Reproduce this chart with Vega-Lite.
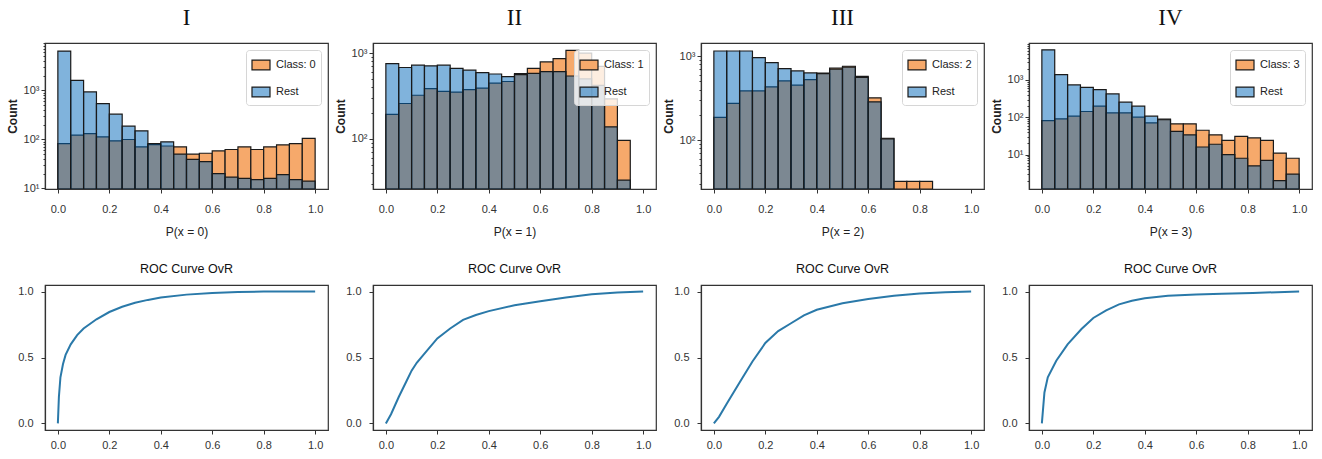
{
  "$schema": "https://vega.github.io/schema/vega-lite/v6.json",
  "background": "white",
  "padding": {"left": 5, "top": 5, "right": 5, "bottom": 5},
  "datasets": {
    "hist": [
      {"panel": "I", "series": "Class: 0", "lo": 0.00, "hi": 0.05, "count": 82},
      {"panel": "I", "series": "Class: 0", "lo": 0.05, "hi": 0.10, "count": 122},
      {"panel": "I", "series": "Class: 0", "lo": 0.10, "hi": 0.15, "count": 131},
      {"panel": "I", "series": "Class: 0", "lo": 0.15, "hi": 0.20, "count": 112},
      {"panel": "I", "series": "Class: 0", "lo": 0.20, "hi": 0.25, "count": 93},
      {"panel": "I", "series": "Class: 0", "lo": 0.25, "hi": 0.30, "count": 99},
      {"panel": "I", "series": "Class: 0", "lo": 0.30, "hi": 0.35, "count": 70},
      {"panel": "I", "series": "Class: 0", "lo": 0.35, "hi": 0.40, "count": 78},
      {"panel": "I", "series": "Class: 0", "lo": 0.40, "hi": 0.45, "count": 73},
      {"panel": "I", "series": "Class: 0", "lo": 0.45, "hi": 0.50, "count": 70},
      {"panel": "I", "series": "Class: 0", "lo": 0.50, "hi": 0.55, "count": 50},
      {"panel": "I", "series": "Class: 0", "lo": 0.55, "hi": 0.60, "count": 52},
      {"panel": "I", "series": "Class: 0", "lo": 0.60, "hi": 0.65, "count": 58},
      {"panel": "I", "series": "Class: 0", "lo": 0.65, "hi": 0.70, "count": 62},
      {"panel": "I", "series": "Class: 0", "lo": 0.70, "hi": 0.75, "count": 70},
      {"panel": "I", "series": "Class: 0", "lo": 0.75, "hi": 0.80, "count": 62},
      {"panel": "I", "series": "Class: 0", "lo": 0.80, "hi": 0.85, "count": 70},
      {"panel": "I", "series": "Class: 0", "lo": 0.85, "hi": 0.90, "count": 77},
      {"panel": "I", "series": "Class: 0", "lo": 0.90, "hi": 0.95, "count": 82},
      {"panel": "I", "series": "Class: 0", "lo": 0.95, "hi": 1.00, "count": 104},
      {"panel": "I", "series": "Rest", "lo": 0.00, "hi": 0.05, "count": 6300},
      {"panel": "I", "series": "Rest", "lo": 0.05, "hi": 0.10, "count": 1590},
      {"panel": "I", "series": "Rest", "lo": 0.10, "hi": 0.15, "count": 925},
      {"panel": "I", "series": "Rest", "lo": 0.15, "hi": 0.20, "count": 535},
      {"panel": "I", "series": "Rest", "lo": 0.20, "hi": 0.25, "count": 325},
      {"panel": "I", "series": "Rest", "lo": 0.25, "hi": 0.30, "count": 185},
      {"panel": "I", "series": "Rest", "lo": 0.30, "hi": 0.35, "count": 149},
      {"panel": "I", "series": "Rest", "lo": 0.35, "hi": 0.40, "count": 82},
      {"panel": "I", "series": "Rest", "lo": 0.40, "hi": 0.45, "count": 89},
      {"panel": "I", "series": "Rest", "lo": 0.45, "hi": 0.50, "count": 50},
      {"panel": "I", "series": "Rest", "lo": 0.50, "hi": 0.55, "count": 39},
      {"panel": "I", "series": "Rest", "lo": 0.55, "hi": 0.60, "count": 35},
      {"panel": "I", "series": "Rest", "lo": 0.60, "hi": 0.65, "count": 20},
      {"panel": "I", "series": "Rest", "lo": 0.65, "hi": 0.70, "count": 17},
      {"panel": "I", "series": "Rest", "lo": 0.70, "hi": 0.75, "count": 16},
      {"panel": "I", "series": "Rest", "lo": 0.75, "hi": 0.80, "count": 15},
      {"panel": "I", "series": "Rest", "lo": 0.80, "hi": 0.85, "count": 16},
      {"panel": "I", "series": "Rest", "lo": 0.85, "hi": 0.90, "count": 19},
      {"panel": "I", "series": "Rest", "lo": 0.90, "hi": 0.95, "count": 15},
      {"panel": "I", "series": "Rest", "lo": 0.95, "hi": 1.00, "count": 14},

      {"panel": "II", "series": "Class: 1", "lo": 0.00, "hi": 0.05, "count": 193},
      {"panel": "II", "series": "Class: 1", "lo": 0.05, "hi": 0.10, "count": 258},
      {"panel": "II", "series": "Class: 1", "lo": 0.10, "hi": 0.15, "count": 322},
      {"panel": "II", "series": "Class: 1", "lo": 0.15, "hi": 0.20, "count": 384},
      {"panel": "II", "series": "Class: 1", "lo": 0.20, "hi": 0.25, "count": 357},
      {"panel": "II", "series": "Class: 1", "lo": 0.25, "hi": 0.30, "count": 351},
      {"panel": "II", "series": "Class: 1", "lo": 0.30, "hi": 0.35, "count": 374},
      {"panel": "II", "series": "Class: 1", "lo": 0.35, "hi": 0.40, "count": 391},
      {"panel": "II", "series": "Class: 1", "lo": 0.40, "hi": 0.45, "count": 446},
      {"panel": "II", "series": "Class: 1", "lo": 0.45, "hi": 0.50, "count": 466},
      {"panel": "II", "series": "Class: 1", "lo": 0.50, "hi": 0.55, "count": 575},
      {"panel": "II", "series": "Class: 1", "lo": 0.55, "hi": 0.60, "count": 662},
      {"panel": "II", "series": "Class: 1", "lo": 0.60, "hi": 0.65, "count": 789},
      {"panel": "II", "series": "Class: 1", "lo": 0.65, "hi": 0.70, "count": 861},
      {"panel": "II", "series": "Class: 1", "lo": 0.70, "hi": 0.75, "count": 1075},
      {"panel": "II", "series": "Class: 1", "lo": 0.75, "hi": 0.80, "count": 1000},
      {"panel": "II", "series": "Class: 1", "lo": 0.80, "hi": 0.85, "count": 700},
      {"panel": "II", "series": "Class: 1", "lo": 0.85, "hi": 0.90, "count": 292},
      {"panel": "II", "series": "Class: 1", "lo": 0.90, "hi": 0.95, "count": 96},
      {"panel": "II", "series": "Rest", "lo": 0.00, "hi": 0.05, "count": 755},
      {"panel": "II", "series": "Rest", "lo": 0.05, "hi": 0.10, "count": 679},
      {"panel": "II", "series": "Rest", "lo": 0.10, "hi": 0.15, "count": 722},
      {"panel": "II", "series": "Rest", "lo": 0.15, "hi": 0.20, "count": 710},
      {"panel": "II", "series": "Rest", "lo": 0.20, "hi": 0.25, "count": 722},
      {"panel": "II", "series": "Rest", "lo": 0.25, "hi": 0.30, "count": 662},
      {"panel": "II", "series": "Rest", "lo": 0.30, "hi": 0.35, "count": 632},
      {"panel": "II", "series": "Rest", "lo": 0.35, "hi": 0.40, "count": 590},
      {"panel": "II", "series": "Rest", "lo": 0.40, "hi": 0.45, "count": 570},
      {"panel": "II", "series": "Rest", "lo": 0.45, "hi": 0.50, "count": 531},
      {"panel": "II", "series": "Rest", "lo": 0.50, "hi": 0.55, "count": 560},
      {"panel": "II", "series": "Rest", "lo": 0.55, "hi": 0.60, "count": 580},
      {"panel": "II", "series": "Rest", "lo": 0.60, "hi": 0.65, "count": 606},
      {"panel": "II", "series": "Rest", "lo": 0.65, "hi": 0.70, "count": 606},
      {"panel": "II", "series": "Rest", "lo": 0.70, "hi": 0.75, "count": 540},
      {"panel": "II", "series": "Rest", "lo": 0.75, "hi": 0.80, "count": 500},
      {"panel": "II", "series": "Rest", "lo": 0.80, "hi": 0.85, "count": 420},
      {"panel": "II", "series": "Rest", "lo": 0.85, "hi": 0.90, "count": 138},
      {"panel": "II", "series": "Rest", "lo": 0.90, "hi": 0.95, "count": 33},

      {"panel": "III", "series": "Class: 2", "lo": 0.00, "hi": 0.05, "count": 186},
      {"panel": "III", "series": "Class: 2", "lo": 0.05, "hi": 0.10, "count": 274},
      {"panel": "III", "series": "Class: 2", "lo": 0.10, "hi": 0.15, "count": 386},
      {"panel": "III", "series": "Class: 2", "lo": 0.15, "hi": 0.20, "count": 386},
      {"panel": "III", "series": "Class: 2", "lo": 0.20, "hi": 0.25, "count": 431},
      {"panel": "III", "series": "Class: 2", "lo": 0.25, "hi": 0.30, "count": 508},
      {"panel": "III", "series": "Class: 2", "lo": 0.30, "hi": 0.35, "count": 452},
      {"panel": "III", "series": "Class: 2", "lo": 0.35, "hi": 0.40, "count": 527},
      {"panel": "III", "series": "Class: 2", "lo": 0.40, "hi": 0.45, "count": 630},
      {"panel": "III", "series": "Class: 2", "lo": 0.45, "hi": 0.50, "count": 720},
      {"panel": "III", "series": "Class: 2", "lo": 0.50, "hi": 0.55, "count": 760},
      {"panel": "III", "series": "Class: 2", "lo": 0.55, "hi": 0.60, "count": 575},
      {"panel": "III", "series": "Class: 2", "lo": 0.60, "hi": 0.65, "count": 319},
      {"panel": "III", "series": "Class: 2", "lo": 0.65, "hi": 0.70, "count": 105},
      {"panel": "III", "series": "Class: 2", "lo": 0.70, "hi": 0.75, "count": 32},
      {"panel": "III", "series": "Class: 2", "lo": 0.75, "hi": 0.80, "count": 32},
      {"panel": "III", "series": "Class: 2", "lo": 0.80, "hi": 0.85, "count": 32},
      {"panel": "III", "series": "Rest", "lo": 0.00, "hi": 0.05, "count": 1156},
      {"panel": "III", "series": "Rest", "lo": 0.05, "hi": 0.10, "count": 1156},
      {"panel": "III", "series": "Rest", "lo": 0.10, "hi": 0.15, "count": 1156},
      {"panel": "III", "series": "Rest", "lo": 0.15, "hi": 0.20, "count": 964},
      {"panel": "III", "series": "Rest", "lo": 0.20, "hi": 0.25, "count": 841},
      {"panel": "III", "series": "Rest", "lo": 0.25, "hi": 0.30, "count": 713},
      {"panel": "III", "series": "Rest", "lo": 0.30, "hi": 0.35, "count": 669},
      {"panel": "III", "series": "Rest", "lo": 0.35, "hi": 0.40, "count": 633},
      {"panel": "III", "series": "Rest", "lo": 0.40, "hi": 0.45, "count": 620},
      {"panel": "III", "series": "Rest", "lo": 0.45, "hi": 0.50, "count": 700},
      {"panel": "III", "series": "Rest", "lo": 0.50, "hi": 0.55, "count": 740},
      {"panel": "III", "series": "Rest", "lo": 0.55, "hi": 0.60, "count": 560},
      {"panel": "III", "series": "Rest", "lo": 0.60, "hi": 0.65, "count": 286},
      {"panel": "III", "series": "Rest", "lo": 0.65, "hi": 0.70, "count": 103},

      {"panel": "IV", "series": "Class: 3", "lo": 0.00, "hi": 0.05, "count": 82},
      {"panel": "IV", "series": "Class: 3", "lo": 0.05, "hi": 0.10, "count": 91},
      {"panel": "IV", "series": "Class: 3", "lo": 0.10, "hi": 0.15, "count": 107},
      {"panel": "IV", "series": "Class: 3", "lo": 0.15, "hi": 0.20, "count": 143},
      {"panel": "IV", "series": "Class: 3", "lo": 0.20, "hi": 0.25, "count": 199},
      {"panel": "IV", "series": "Class: 3", "lo": 0.25, "hi": 0.30, "count": 132},
      {"panel": "IV", "series": "Class: 3", "lo": 0.30, "hi": 0.35, "count": 132},
      {"panel": "IV", "series": "Class: 3", "lo": 0.35, "hi": 0.40, "count": 101},
      {"panel": "IV", "series": "Class: 3", "lo": 0.40, "hi": 0.45, "count": 71},
      {"panel": "IV", "series": "Class: 3", "lo": 0.45, "hi": 0.50, "count": 89},
      {"panel": "IV", "series": "Class: 3", "lo": 0.50, "hi": 0.55, "count": 67},
      {"panel": "IV", "series": "Class: 3", "lo": 0.55, "hi": 0.60, "count": 67},
      {"panel": "IV", "series": "Class: 3", "lo": 0.60, "hi": 0.65, "count": 45},
      {"panel": "IV", "series": "Class: 3", "lo": 0.65, "hi": 0.70, "count": 34},
      {"panel": "IV", "series": "Class: 3", "lo": 0.70, "hi": 0.75, "count": 24},
      {"panel": "IV", "series": "Class: 3", "lo": 0.75, "hi": 0.80, "count": 31},
      {"panel": "IV", "series": "Class: 3", "lo": 0.80, "hi": 0.85, "count": 28},
      {"panel": "IV", "series": "Class: 3", "lo": 0.85, "hi": 0.90, "count": 24},
      {"panel": "IV", "series": "Class: 3", "lo": 0.90, "hi": 0.95, "count": 11},
      {"panel": "IV", "series": "Class: 3", "lo": 0.95, "hi": 1.00, "count": 8},
      {"panel": "IV", "series": "Rest", "lo": 0.00, "hi": 0.05, "count": 6450},
      {"panel": "IV", "series": "Rest", "lo": 0.05, "hi": 0.10, "count": 1390},
      {"panel": "IV", "series": "Rest", "lo": 0.10, "hi": 0.15, "count": 736},
      {"panel": "IV", "series": "Rest", "lo": 0.15, "hi": 0.20, "count": 637},
      {"panel": "IV", "series": "Rest", "lo": 0.20, "hi": 0.25, "count": 552},
      {"panel": "IV", "series": "Rest", "lo": 0.25, "hi": 0.30, "count": 423},
      {"panel": "IV", "series": "Rest", "lo": 0.30, "hi": 0.35, "count": 254},
      {"panel": "IV", "series": "Rest", "lo": 0.35, "hi": 0.40, "count": 199},
      {"panel": "IV", "series": "Rest", "lo": 0.40, "hi": 0.45, "count": 107},
      {"panel": "IV", "series": "Rest", "lo": 0.45, "hi": 0.50, "count": 86},
      {"panel": "IV", "series": "Rest", "lo": 0.50, "hi": 0.55, "count": 42},
      {"panel": "IV", "series": "Rest", "lo": 0.55, "hi": 0.60, "count": 34},
      {"panel": "IV", "series": "Rest", "lo": 0.60, "hi": 0.65, "count": 16},
      {"panel": "IV", "series": "Rest", "lo": 0.65, "hi": 0.70, "count": 19},
      {"panel": "IV", "series": "Rest", "lo": 0.70, "hi": 0.75, "count": 10},
      {"panel": "IV", "series": "Rest", "lo": 0.75, "hi": 0.80, "count": 8},
      {"panel": "IV", "series": "Rest", "lo": 0.80, "hi": 0.85, "count": 5},
      {"panel": "IV", "series": "Rest", "lo": 0.85, "hi": 0.90, "count": 7},
      {"panel": "IV", "series": "Rest", "lo": 0.90, "hi": 0.95, "count": 2},
      {"panel": "IV", "series": "Rest", "lo": 0.95, "hi": 1.00, "count": 3}
    ],
    "roc": [
      {"panel": "I", "fpr": 0.0, "tpr": 0.0},
      {"panel": "I", "fpr": 0.004, "tpr": 0.2},
      {"panel": "I", "fpr": 0.01, "tpr": 0.35},
      {"panel": "I", "fpr": 0.02, "tpr": 0.45},
      {"panel": "I", "fpr": 0.03, "tpr": 0.52},
      {"panel": "I", "fpr": 0.05, "tpr": 0.6},
      {"panel": "I", "fpr": 0.075, "tpr": 0.67},
      {"panel": "I", "fpr": 0.1, "tpr": 0.72},
      {"panel": "I", "fpr": 0.15, "tpr": 0.79},
      {"panel": "I", "fpr": 0.2, "tpr": 0.845},
      {"panel": "I", "fpr": 0.25, "tpr": 0.885},
      {"panel": "I", "fpr": 0.3, "tpr": 0.915},
      {"panel": "I", "fpr": 0.35, "tpr": 0.937},
      {"panel": "I", "fpr": 0.4, "tpr": 0.955},
      {"panel": "I", "fpr": 0.5, "tpr": 0.977},
      {"panel": "I", "fpr": 0.6, "tpr": 0.99},
      {"panel": "I", "fpr": 0.7, "tpr": 0.996},
      {"panel": "I", "fpr": 0.8, "tpr": 1.0},
      {"panel": "I", "fpr": 1.0, "tpr": 1.0},

      {"panel": "II", "fpr": 0.0, "tpr": 0.0},
      {"panel": "II", "fpr": 0.02, "tpr": 0.07},
      {"panel": "II", "fpr": 0.05, "tpr": 0.2},
      {"panel": "II", "fpr": 0.08, "tpr": 0.32},
      {"panel": "II", "fpr": 0.1, "tpr": 0.4},
      {"panel": "II", "fpr": 0.12, "tpr": 0.46},
      {"panel": "II", "fpr": 0.15, "tpr": 0.53},
      {"panel": "II", "fpr": 0.2, "tpr": 0.645},
      {"panel": "II", "fpr": 0.25, "tpr": 0.72},
      {"panel": "II", "fpr": 0.3, "tpr": 0.785},
      {"panel": "II", "fpr": 0.35, "tpr": 0.822},
      {"panel": "II", "fpr": 0.4, "tpr": 0.852},
      {"panel": "II", "fpr": 0.5, "tpr": 0.897},
      {"panel": "II", "fpr": 0.6, "tpr": 0.927},
      {"panel": "II", "fpr": 0.7, "tpr": 0.956},
      {"panel": "II", "fpr": 0.8, "tpr": 0.98},
      {"panel": "II", "fpr": 0.9, "tpr": 0.993},
      {"panel": "II", "fpr": 1.0, "tpr": 1.0},

      {"panel": "III", "fpr": 0.0, "tpr": 0.0},
      {"panel": "III", "fpr": 0.02, "tpr": 0.05},
      {"panel": "III", "fpr": 0.05, "tpr": 0.15},
      {"panel": "III", "fpr": 0.1, "tpr": 0.31},
      {"panel": "III", "fpr": 0.15, "tpr": 0.47},
      {"panel": "III", "fpr": 0.2, "tpr": 0.61},
      {"panel": "III", "fpr": 0.25, "tpr": 0.7},
      {"panel": "III", "fpr": 0.3, "tpr": 0.76},
      {"panel": "III", "fpr": 0.35, "tpr": 0.82},
      {"panel": "III", "fpr": 0.4, "tpr": 0.862},
      {"panel": "III", "fpr": 0.5, "tpr": 0.912},
      {"panel": "III", "fpr": 0.6, "tpr": 0.944},
      {"panel": "III", "fpr": 0.7, "tpr": 0.968},
      {"panel": "III", "fpr": 0.8, "tpr": 0.986},
      {"panel": "III", "fpr": 0.9, "tpr": 0.995},
      {"panel": "III", "fpr": 1.0, "tpr": 1.0},

      {"panel": "IV", "fpr": 0.0, "tpr": 0.0},
      {"panel": "IV", "fpr": 0.01, "tpr": 0.235},
      {"panel": "IV", "fpr": 0.023, "tpr": 0.35},
      {"panel": "IV", "fpr": 0.056, "tpr": 0.475},
      {"panel": "IV", "fpr": 0.1, "tpr": 0.6},
      {"panel": "IV", "fpr": 0.154, "tpr": 0.716},
      {"panel": "IV", "fpr": 0.2, "tpr": 0.8},
      {"panel": "IV", "fpr": 0.25, "tpr": 0.858},
      {"panel": "IV", "fpr": 0.3, "tpr": 0.903},
      {"panel": "IV", "fpr": 0.35, "tpr": 0.93},
      {"panel": "IV", "fpr": 0.4, "tpr": 0.95},
      {"panel": "IV", "fpr": 0.49, "tpr": 0.968},
      {"panel": "IV", "fpr": 0.6, "tpr": 0.977},
      {"panel": "IV", "fpr": 0.7, "tpr": 0.983},
      {"panel": "IV", "fpr": 0.82, "tpr": 0.99},
      {"panel": "IV", "fpr": 1.0, "tpr": 1.0}
    ]
  },
  "vconcat": [
    {
      "hconcat": [
        {
          "width": 283, "height": 146,
          "title": {"text": "I"},
          "data": {"name": "hist"},
          "transform": [{"filter": "datum.panel === 'I'"}],
          "mark": {"type": "bar", "stroke": "#1a1a1a", "strokeWidth": 1.2, "clip": true},
          "encoding": {
            "x": {"field": "lo", "type": "quantitative", "scale": {"domain": [-0.05, 1.05], "nice": false, "zero": false},
                  "axis": {"title": "P(x = 0)", "values": [0, 0.2, 0.4, 0.6, 0.8, 1.0], "format": ".1f"}},
            "x2": {"field": "hi"},
            "y": {"field": "count", "type": "quantitative", "stack": null,
                  "scale": {"type": "log", "domain": [9.7, 9200], "nice": false},
                  "axis": {"title": "Count",
                           "values": [10, 20, 30, 40, 50, 60, 70, 80, 90, 100, 200, 300, 400, 500, 600, 700, 800, 900, 1000, 2000, 3000, 4000, 5000, 6000, 7000, 8000, 9000],
                           "labelExpr": "datum.value === 10 ? '10¹' : datum.value === 100 ? '10²' : datum.value === 1000 ? '10³' : ''",
                           "tickSize": {"condition": {"test": "datum.value === 10 || datum.value === 100 || datum.value === 1000", "value": 4}, "value": 2}}},
            "y2": {"datum": 9.7},
            "color": {"field": "series", "type": "nominal",
                      "scale": {"domain": ["Class: 0", "Rest"], "range": ["#f6a96b", "rgba(1,103,186,0.5)"]}}
          }
        },
        {
          "width": 283, "height": 146,
          "title": {"text": "II"},
          "data": {"name": "hist"},
          "transform": [{"filter": "datum.panel === 'II'"}],
          "mark": {"type": "bar", "stroke": "#1a1a1a", "strokeWidth": 1.2, "clip": true},
          "encoding": {
            "x": {"field": "lo", "type": "quantitative", "scale": {"domain": [-0.05, 1.05], "nice": false, "zero": false},
                  "axis": {"title": "P(x = 1)", "values": [0, 0.2, 0.4, 0.6, 0.8, 1.0], "format": ".1f"}},
            "x2": {"field": "hi"},
            "y": {"field": "count", "type": "quantitative", "stack": null,
                  "scale": {"type": "log", "domain": [26, 1310], "nice": false},
                  "axis": {"title": "Count",
                           "values": [30, 40, 50, 60, 70, 80, 90, 100, 200, 300, 400, 500, 600, 700, 800, 900, 1000],
                           "labelExpr": "datum.value === 100 ? '10²' : datum.value === 1000 ? '10³' : ''",
                           "tickSize": {"condition": {"test": "datum.value === 100 || datum.value === 1000", "value": 4}, "value": 2}}},
            "y2": {"datum": 26},
            "color": {"field": "series", "type": "nominal",
                      "scale": {"domain": ["Class: 1", "Rest"], "range": ["#f6a96b", "rgba(1,103,186,0.5)"]}}
          }
        },
        {
          "width": 283, "height": 146,
          "title": {"text": "III"},
          "data": {"name": "hist"},
          "transform": [{"filter": "datum.panel === 'III'"}],
          "mark": {"type": "bar", "stroke": "#1a1a1a", "strokeWidth": 1.2, "clip": true},
          "encoding": {
            "x": {"field": "lo", "type": "quantitative", "scale": {"domain": [-0.05, 1.05], "nice": false, "zero": false},
                  "axis": {"title": "P(x = 2)", "values": [0, 0.2, 0.4, 0.6, 0.8, 1.0], "format": ".1f"}},
            "x2": {"field": "hi"},
            "y": {"field": "count", "type": "quantitative", "stack": null,
                  "scale": {"type": "log", "domain": [26, 1440], "nice": false},
                  "axis": {"title": "Count",
                           "values": [30, 40, 50, 60, 70, 80, 90, 100, 200, 300, 400, 500, 600, 700, 800, 900, 1000],
                           "labelExpr": "datum.value === 100 ? '10²' : datum.value === 1000 ? '10³' : ''",
                           "tickSize": {"condition": {"test": "datum.value === 100 || datum.value === 1000", "value": 4}, "value": 2}}},
            "y2": {"datum": 26},
            "color": {"field": "series", "type": "nominal",
                      "scale": {"domain": ["Class: 2", "Rest"], "range": ["#f6a96b", "rgba(1,103,186,0.5)"]}}
          }
        },
        {
          "width": 283, "height": 146,
          "title": {"text": "IV"},
          "data": {"name": "hist"},
          "transform": [{"filter": "datum.panel === 'IV'"}],
          "mark": {"type": "bar", "stroke": "#1a1a1a", "strokeWidth": 1.2, "clip": true},
          "encoding": {
            "x": {"field": "lo", "type": "quantitative", "scale": {"domain": [-0.05, 1.05], "nice": false, "zero": false},
                  "axis": {"title": "P(x = 3)", "values": [0, 0.2, 0.4, 0.6, 0.8, 1.0], "format": ".1f"}},
            "x2": {"field": "hi"},
            "y": {"field": "count", "type": "quantitative", "stack": null,
                  "scale": {"type": "log", "domain": [1.2, 9800], "nice": false},
                  "axis": {"title": "Count",
                           "values": [2, 3, 4, 5, 6, 7, 8, 9, 10, 20, 30, 40, 50, 60, 70, 80, 90, 100, 200, 300, 400, 500, 600, 700, 800, 900, 1000, 2000, 3000, 4000, 5000, 6000, 7000, 8000, 9000],
                           "labelExpr": "datum.value === 10 ? '10¹' : datum.value === 100 ? '10²' : datum.value === 1000 ? '10³' : ''",
                           "tickSize": {"condition": {"test": "datum.value === 10 || datum.value === 100 || datum.value === 1000", "value": 4}, "value": 2}}},
            "y2": {"datum": 1.2},
            "color": {"field": "series", "type": "nominal",
                      "scale": {"domain": ["Class: 3", "Rest"], "range": ["#f6a96b", "rgba(1,103,186,0.5)"]}}
          }
        }
      ],
      "spacing": 45,
      "bounds": "flush",
      "resolve": {"scale": {"color": "independent", "x": "independent", "y": "independent"}, "legend": {"color": "independent"}}
    },
    {
      "hconcat": [
        {
          "width": 283, "height": 145,
          "title": {"text": "ROC Curve OvR", "font": "Liberation Sans, sans-serif", "fontSize": 12.5, "offset": 10},
          "data": {"name": "roc"},
          "transform": [{"filter": "datum.panel === 'I'"}],
          "mark": {"type": "line", "color": "#2a79a9", "strokeWidth": 2},
          "encoding": {
            "x": {"field": "fpr", "type": "quantitative", "scale": {"domain": [-0.05, 1.05], "nice": false, "zero": false},
                  "axis": {"title": null, "values": [0, 0.2, 0.4, 0.6, 0.8, 1.0], "format": ".1f", "labelPadding": 5}},
            "y": {"field": "tpr", "type": "quantitative", "scale": {"domain": [-0.05, 1.05], "nice": false, "zero": false},
                  "axis": {"title": null, "values": [0, 0.5, 1.0], "format": ".1f", "labelPadding": 8}}
          }
        },
        {
          "width": 283, "height": 145,
          "title": {"text": "ROC Curve OvR", "font": "Liberation Sans, sans-serif", "fontSize": 12.5, "offset": 10},
          "data": {"name": "roc"},
          "transform": [{"filter": "datum.panel === 'II'"}],
          "mark": {"type": "line", "color": "#2a79a9", "strokeWidth": 2},
          "encoding": {
            "x": {"field": "fpr", "type": "quantitative", "scale": {"domain": [-0.05, 1.05], "nice": false, "zero": false},
                  "axis": {"title": null, "values": [0, 0.2, 0.4, 0.6, 0.8, 1.0], "format": ".1f", "labelPadding": 5}},
            "y": {"field": "tpr", "type": "quantitative", "scale": {"domain": [-0.05, 1.05], "nice": false, "zero": false},
                  "axis": {"title": null, "values": [0, 0.5, 1.0], "format": ".1f", "labelPadding": 8}}
          }
        },
        {
          "width": 283, "height": 145,
          "title": {"text": "ROC Curve OvR", "font": "Liberation Sans, sans-serif", "fontSize": 12.5, "offset": 10},
          "data": {"name": "roc"},
          "transform": [{"filter": "datum.panel === 'III'"}],
          "mark": {"type": "line", "color": "#2a79a9", "strokeWidth": 2},
          "encoding": {
            "x": {"field": "fpr", "type": "quantitative", "scale": {"domain": [-0.05, 1.05], "nice": false, "zero": false},
                  "axis": {"title": null, "values": [0, 0.2, 0.4, 0.6, 0.8, 1.0], "format": ".1f", "labelPadding": 5}},
            "y": {"field": "tpr", "type": "quantitative", "scale": {"domain": [-0.05, 1.05], "nice": false, "zero": false},
                  "axis": {"title": null, "values": [0, 0.5, 1.0], "format": ".1f", "labelPadding": 8}}
          }
        },
        {
          "width": 283, "height": 145,
          "title": {"text": "ROC Curve OvR", "font": "Liberation Sans, sans-serif", "fontSize": 12.5, "offset": 10},
          "data": {"name": "roc"},
          "transform": [{"filter": "datum.panel === 'IV'"}],
          "mark": {"type": "line", "color": "#2a79a9", "strokeWidth": 2},
          "encoding": {
            "x": {"field": "fpr", "type": "quantitative", "scale": {"domain": [-0.05, 1.05], "nice": false, "zero": false},
                  "axis": {"title": null, "values": [0, 0.2, 0.4, 0.6, 0.8, 1.0], "format": ".1f", "labelPadding": 5}},
            "y": {"field": "tpr", "type": "quantitative", "scale": {"domain": [-0.05, 1.05], "nice": false, "zero": false},
                  "axis": {"title": null, "values": [0, 0.5, 1.0], "format": ".1f", "labelPadding": 8}}
          }
        }
      ],
      "spacing": 45,
      "bounds": "flush",
      "resolve": {"scale": {"x": "independent", "y": "independent"}}
    }
  ],
  "spacing": 23,
  "resolve": {"scale": {"color": "independent"}, "legend": {"color": "independent"}},
  "config": {
    "font": "Liberation Sans, sans-serif",
    "view": {"stroke": "#333333", "strokeWidth": 1.2},
    "axis": {
      "grid": false,
      "labelFont": "Liberation Sans, sans-serif",
      "titleFont": "Liberation Sans, sans-serif",
      "domainColor": "#333333",
      "domainWidth": 1.2,
      "tickColor": "#333333",
      "tickSize": 4,
      "labelColor": "#333333",
      "labelFontSize": 11,
      "titleColor": "#222222",
      "titleFontSize": 12,
      "titleFontWeight": "normal"
    },
    "axisX": {"labelPadding": 10, "titlePadding": 12},
    "axisY": {"labelPadding": 2, "titleFontWeight": "bold", "titlePadding": 4},
    "title": {"font": "Liberation Serif, DejaVu Serif, serif", "fontSize": 23, "fontWeight": "normal", "color": "#111111", "offset": 13, "anchor": "middle"},
    "legend": {
      "title": null,
      "orient": "top-right",
      "offset": 7,
      "symbolType": "M-1,-0.55L1,-0.55L1,0.55L-1,0.55Z",
      "symbolSize": 324,
      "symbolStrokeColor": "#1a1a1a",
      "symbolStrokeWidth": 1.2,
      "labelFont": "Liberation Sans, sans-serif",
      "labelFontSize": 11,
      "labelColor": "#222222",
      "labelOffset": 5,
      "fillColor": "rgba(255,255,255,0.8)",
      "strokeColor": "#d6d6d6",
      "cornerRadius": 3,
      "padding": 5,
      "rowPadding": 9
    }
  }
}
